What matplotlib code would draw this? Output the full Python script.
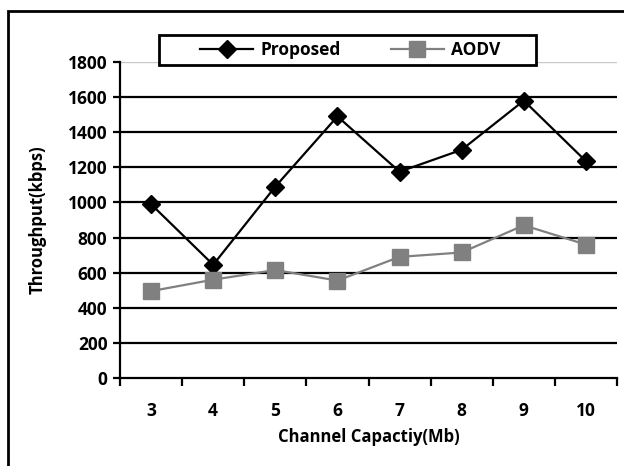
import matplotlib.pyplot as plt
from matplotlib.patches import Rectangle

plt.rcParams['font.family'] = ['Open Sans', 'DejaVu Sans']
plt.rcParams['font.weight'] = 'bold'

# dados
categorias = ['3', '4', '5', '6', '7', '8', '9', '10']
proposto = [990, 645, 1090, 1490, 1175, 1300, 1580, 1235]
aodv = [495, 560, 615, 555, 690, 715, 870, 760]
y_ticks = [0, 200, 400, 600, 800, 1000, 1200, 1400, 1600, 1800]

W, H = 624, 466
fig = plt.figure(figsize=(W / 100, H / 100), dpi=100)
ax = fig.add_axes([120 / W, 1 - 378 / H, 497 / W, 316 / H])

# moldura externa (cortada na direita e embaixo)
fig.patches.append(Rectangle((8 / W, -0.05), 1.2, 1 - 11 / H + 0.05,
                             transform=fig.transFigure, fill=False,
                             edgecolor='black', linewidth=2))

x = list(range(len(categorias)))

# linhas de grade
for v in y_ticks[1:-1]:
    ax.axhline(v, color='black', linewidth=1.6, zorder=1)
ax.axhline(y_ticks[-1], color='#c8c8c8', linewidth=1.0, zorder=1)

ax.plot(x, proposto, color='black', linewidth=1.6, marker='D', markersize=9,
        label='Proposed', zorder=3)
ax.plot(x, aodv, color='#808080', linewidth=1.6, marker='s', markersize=11,
        label='AODV', zorder=3)

ax.set_xlim(-0.5, len(categorias) - 0.5)
ax.set_ylim(0, 1800)
ax.set_yticks(y_ticks)
ax.set_yticklabels([str(v) for v in y_ticks], fontweight='bold')
ax.set_xticks([i - 0.5 for i in range(len(categorias) + 1)])
ax.set_xticklabels([])
ax.set_xticks(x, minor=True)
ax.set_xticklabels(categorias, minor=True, fontweight='bold')
ax.tick_params(axis='x', which='major', direction='out', length=6, width=1.6)
ax.tick_params(axis='x', which='minor', length=0, pad=17, labelsize=12.5)
ax.tick_params(axis='y', direction='out', length=5, width=1.6, labelsize=12.5, pad=4)

for s in ['top', 'right']:
    ax.spines[s].set_visible(False)
ax.spines['left'].set_linewidth(1.6)
ax.spines['bottom'].set_linewidth(1.6)

ax.set_xlabel('Channel Capactiy(Mb)', fontsize=12, fontweight='bold')
ax.set_ylabel('Throughput(kbps)', fontsize=12, fontweight='bold')
ax.xaxis.set_label_coords(0.5, (378 - 428) / 316)
ax.yaxis.set_label_coords((47 - 120) / 497, 0.5)

# caixa da legenda desenhada a parte
fig.patches.append(Rectangle((159 / W, 1 - 65 / H), 377 / W, 30 / H,
                             transform=fig.transFigure, facecolor='white',
                             edgecolor='black', linewidth=2, zorder=5))
leg = fig.legend(loc='center', bbox_to_anchor=(350 / W, 1 - 50 / H), ncol=2,
                 frameon=False, fontsize=12.5, handlelength=3.05,
                 handletextpad=0.4, columnspacing=2.9, borderpad=0.2)
leg.set_zorder(6)
for t in leg.get_texts():
    t.set_fontweight('bold')

fig.savefig('out.png', dpi=100)
